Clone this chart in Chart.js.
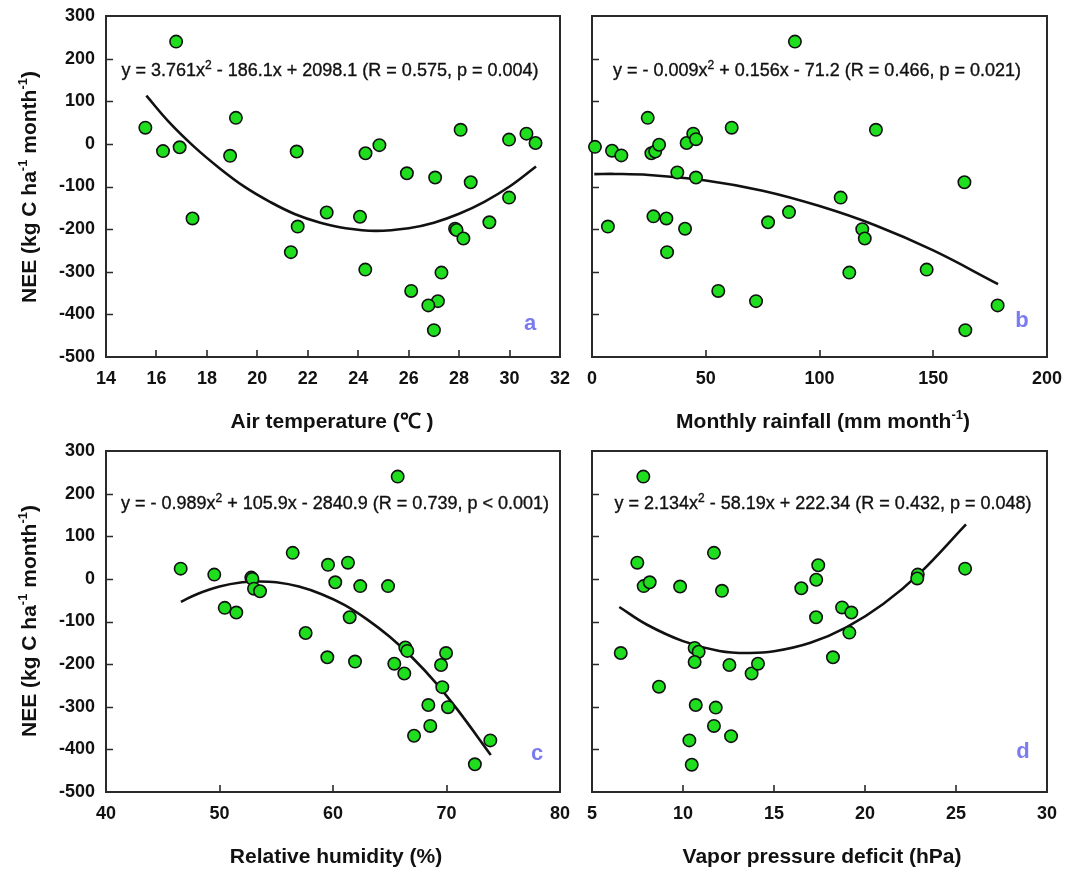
<!DOCTYPE html>
<html>
<head>
<meta charset="utf-8">
<script src="https://cdn.jsdelivr.net/npm/chart.js@4.4.1/dist/chart.umd.min.js"></script>
<style>
  html, body { margin: 0; padding: 0; background: #fff; }
  body { width: 1075px; height: 869px; position: relative; overflow: hidden;
         font-family: "Liberation Sans", Arial, Helvetica, sans-serif; color: #000; }
  canvas { position: absolute; left: 0; top: 0; }
  .t { position: absolute; white-space: nowrap; line-height: 1; transform: translate(-50%, -50%); }
  .eq { font-size: 18px; font-weight: normal; color: #111; -webkit-text-stroke: 0.35px #111; }
  .eq sup { font-size: 12px; line-height: 0; vertical-align: 7px; }
  .ttl { font-size: 21px; font-weight: bold; color: #111; }
  .ttl sup { font-size: 13px; line-height: 0; vertical-align: 9px; }
  .yt { transform: translate(-50%, -50%) rotate(-90deg); }
  .lt { font-size: 22px; font-weight: bold; color: #7b7bf0; }
</style>
</head>
<body>
<canvas id="ca" width="1075" height="869"></canvas>
<canvas id="cb" width="1075" height="869"></canvas>
<canvas id="cc" width="1075" height="869"></canvas>
<canvas id="cd" width="1075" height="869"></canvas>

<div class="t eq" style="left:330px;top:70px">y = 3.761x<sup>2</sup> - 186.1x + 2098.1 (R = 0.575, p = 0.004)</div>
<div class="t eq" style="left:817px;top:70px">y = - 0.009x<sup>2</sup> + 0.156x - 71.2 (R = 0.466, p = 0.021)</div>
<div class="t eq" style="left:335px;top:503px">y = - 0.989x<sup>2</sup> + 105.9x - 2840.9 (R = 0.739, p &lt; 0.001)</div>
<div class="t eq" style="left:823px;top:503px">y = 2.134x<sup>2</sup> - 58.19x + 222.34 (R = 0.432, p = 0.048)</div>

<div class="t ttl" style="left:332px;top:420px">Air temperature (℃ )</div>
<div class="t ttl" style="left:823px;top:420px">Monthly rainfall (mm month<sup>-1</sup>)</div>
<div class="t ttl" style="left:336px;top:855px">Relative humidity (%)</div>
<div class="t ttl" style="left:822px;top:855px">Vapor pressure deficit (hPa)</div>

<div class="t ttl yt" style="left:28px;top:187px">NEE (kg C ha<sup>-1</sup> month<sup>-1</sup>)</div>
<div class="t ttl yt" style="left:28px;top:621px">NEE (kg C ha<sup>-1</sup> month<sup>-1</sup>)</div>

<div class="t lt" style="left:530px;top:323px">a</div>
<div class="t lt" style="left:1022px;top:320px">b</div>
<div class="t lt" style="left:537px;top:753px">c</div>
<div class="t lt" style="left:1023px;top:751px">d</div>

<script>
// ---------------- data ----------------
// NEE tick labels (shared y axis)
const neeTicks = [-500, -400, -300, -200, -100, 0, 100, 200, 300];

// (a) air temperature
const aTemp = [15.56,16.78,16.26,16.92,17.43,18.92,19.15,21.56,21.60,21.33,22.75,24.07,24.29,24.84,24.28,25.93,26.10,27.05,27.30,27.16,26.78,27.00,28.06,28.46,27.84,27.90,28.17,29.20,29.98,29.98,30.67,31.03];
const aNEE  = [38,240,-17,-8,-175,-28,61,-18,-194,-254,-161,-171,-22,-3,-295,-69,-345,-79,-302,-369,-379,-437,33,-90,-199,-202,-222,-184,-126,10,24,2];
const aFitX = [15.6,16.5,17.5,18.5,19.5,20.5,21.5,22.5,23.5,24.7,26,27,28,29,30,31.05];
const aFitY = [113,51,-7,-57,-101,-136,-165,-185,-198,-204,-198,-185,-164,-136,-100,-53];
const aXTicks = [14,16,18,20,22,24,26,28,30,32];

// (b) monthly rainfall
const bRain = [1.3,8.8,12.9,7.0,24.5,26.1,27.8,29.5,27.0,32.7,33.0,37.5,40.9,41.6,44.5,45.7,45.7,55.5,61.4,72.1,77.4,86.6,89.2,109.3,113.1,124.8,118.8,119.9,147.1,163.7,164.1,178.3];
const bNEE  = [-7,-16,-27,-194,61,-22,-18,-2,-170,-175,-254,-67,-199,2,24,11,-79,-345,38,-369,-184,-160,240,-126,-302,33,-200,-222,-295,-90,-437,-379];
const bFitX = [1,10,25,50,75,100,125,150,178.5];
const bFitY = [-71,-70.5,-73,-86,-110,-146,-192,-250,-329];
const bXTicks = [0,50,100,150,200];

// (c) relative humidity
const cRH  = [46.58,49.54,50.46,51.48,52.80,52.90,53.04,53.57,56.45,57.59,59.56,59.50,60.20,61.32,61.47,61.94,62.40,65.70,64.85,65.40,66.28,66.37,66.55,69.96,69.52,69.63,70.13,68.40,68.57,67.14,72.50,73.86];
const cNEE = [24,10,-68,-79,3,0,-23,-29,61,-127,33,-184,-8,38,-90,-194,-17,240,-17,-199,-222,-161,-169,-174,-202,-254,-301,-296,-345,-368,-435,-379];
const cFitX = [46.6,48,50,52,53.5,55,57,59,61,63,65,67,69,71,73.9];
const cFitY = [-54,-36,-18,-8,-6,-8,-18,-36,-61,-95,-136,-185,-242,-308,-413];
const cXTicks = [40,50,60,70,80];

// (d) vapor pressure deficit
const dVPD = [6.58,7.49,7.82,7.84,8.17,8.68,9.84,10.35,10.48,10.64,10.86,10.64,10.70,11.70,12.14,11.80,11.70,12.64,12.55,13.77,14.12,16.50,17.32,17.43,17.31,18.24,18.74,19.25,19.14,22.90,22.87,25.50];
const dNEE = [-174,38,240,-17,-8,-253,-18,-379,-436,-162,-171,-195,-296,61,-28,-302,-345,-369,-202,-222,-199,-22,-2,32,-90,-184,-67,-79,-126,10,1,24];
const dFitX = [6.5,8,10,12,13.6,15,17,19,21,23,25.55];
const dFitY = [-66,-107,-146,-169,-174,-170,-150,-113,-59,13,128];
const dXTicks = [5,10,15,20,25,30];

// ---------------- layout & style ----------------
const W = 1075, H = 869;
Chart.defaults.font.family = '"Liberation Sans", Arial, Helvetica, sans-serif';

const framePlugin = {
  id: 'frame',
  beforeDatasetsDraw(chart) {
    const { ctx, chartArea: a, scales: { x, y } } = chart;
    ctx.save();
    ctx.strokeStyle = '#2a2a2a';
    ctx.lineWidth = 2;
    ctx.strokeRect(a.left, a.top, a.right - a.left, a.bottom - a.top);
    ctx.lineWidth = 1.6;
    ctx.beginPath();
    x.ticks.forEach(t => {
      if (t.value > x.min && t.value < x.max) {
        const px = Math.round(x.getPixelForValue(t.value));
        ctx.moveTo(px, a.bottom); ctx.lineTo(px, a.bottom - 7);
      }
    });
    y.ticks.forEach(t => {
      if (t.value > y.min && t.value < y.max) {
        const py = Math.round(y.getPixelForValue(t.value)) + 0.5;
        ctx.moveTo(a.left, py); ctx.lineTo(a.left + 7, py);
      }
    });
    ctx.stroke();
    ctx.restore();
  }
};

function zip(xs, ys) { return xs.map((v, i) => ({ x: v, y: ys[i] })); }

function noEdgePadding(s) {
  s.paddingTop = 0; s.paddingBottom = 0; s.paddingLeft = 0; s.paddingRight = 0;
}

function panel(id, xs, ys, fx, fy, xTicks, area, showY) {
  const tickFont = { size: 18, weight: 'bold' };
  new Chart(document.getElementById(id), {
    type: 'scatter',
    data: {
      datasets: [
        {
          data: zip(xs, ys),
          pointRadius: 6.2,
          pointBackgroundColor: '#1ede1e',
          pointBorderColor: '#111',
          pointBorderWidth: 1.6,
          clip: false,
          order: 1
        },
        {
          data: zip(fx, fy),
          showLine: true,
          pointRadius: 0,
          borderColor: '#111',
          borderWidth: 2.6,
          tension: 0.4,
          clip: false,
          order: 2
        }
      ]
    },
    options: {
      responsive: false,
      animation: false,
      events: [],
      layout: { padding: { left: 0, top: area.t, right: W - area.r, bottom: 0 } },
      plugins: { legend: { display: false }, tooltip: { enabled: false } },
      scales: {
        x: {
          type: 'linear',
          min: xTicks[0], max: xTicks[xTicks.length - 1],
          afterBuildTicks(s) { s.ticks = xTicks.map(v => ({ value: v })); },
          ticks: { font: tickFont, color: '#111', padding: 11, maxRotation: 0, autoSkip: false },
          grid: { display: false, drawTicks: false },
          border: { display: false },
          afterFit(s) { s.height = H - area.b; noEdgePadding(s); }
        },
        y: {
          type: 'linear',
          min: neeTicks[0], max: neeTicks[neeTicks.length - 1],
          afterBuildTicks(s) { s.ticks = neeTicks.map(v => ({ value: v })); },
          ticks: { display: showY, font: tickFont, color: '#111', padding: 11, autoSkip: false },
          grid: { display: false, drawTicks: false },
          border: { display: false },
          afterFit(s) { s.width = area.l; noEdgePadding(s); }
        }
      }
    },
    plugins: [framePlugin]
  });
}

panel('ca', aTemp, aNEE, aFitX, aFitY, aXTicks, { l: 106, t: 16, r: 560, b: 357 }, true);
panel('cb', bRain, bNEE, bFitX, bFitY, bXTicks, { l: 592, t: 16, r: 1047, b: 357 }, false);
panel('cc', cRH, cNEE, cFitX, cFitY, cXTicks, { l: 106, t: 451, r: 560, b: 792 }, true);
panel('cd', dVPD, dNEE, dFitX, dFitY, dXTicks, { l: 592, t: 451, r: 1047, b: 792 }, false);
</script>
</body>
</html>
